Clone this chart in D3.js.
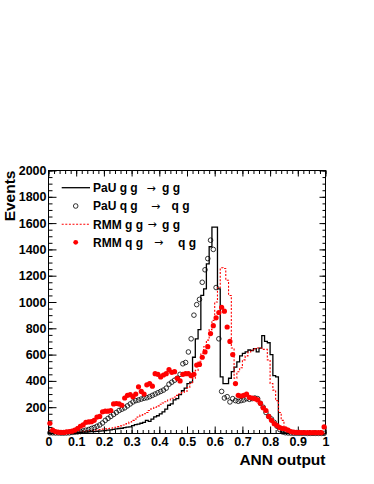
<!DOCTYPE html>
<html>
<head>
<meta charset="utf-8">
<script src="https://cdn.jsdelivr.net/npm/d3@7"></script>
<style>
  body { margin: 0; background: #fff; }
  text { font-family: "Liberation Sans", Arial, Helvetica, sans-serif; font-weight: bold; }
  text.arrow { font-family: "DejaVu Sans", sans-serif; font-weight: normal; }
</style>
</head>
<body>
<div id="chart"></div>
<script>
const WIDTH = 374;
const HEIGHT = 484;
const FRAME = { LEFT: 48.5, RIGHT: 325.5, TOP: 170.5, BOTTOM: 433.5 };

// 100 bins between 0 and 1
const nBins = 100;

// PaU g g -> g g (black histogram)
const paUgg = [
  3, 2, 2, 2, 3, 3, 4, 5, 6, 7,
  8, 9, 10, 12, 13, 14, 15, 17, 18, 20,
  22, 25, 28, 32, 35, 38, 40, 45, 48, 50,
  60, 68, 72, 78, 85, 100, 92, 110, 126, 135,
  150, 165, 185, 215, 225, 255, 265, 295, 325, 345,
  380, 390, 580, 720, 790, 1050, 1100, 1290, 1420, 1570,
  1570, 1100, 430, 380, 380, 420, 470, 505, 545, 590,
  610, 620, 635, 630, 645, 620, 650, 745, 700, 690,
  600, 440, 430, 40, 10, 5, 3, 3, 2, 2,
  2, 2, 1, 1, 1, 1, 1, 1, 1, 1
];

// PaU q g -> q g (open circles)
const paUqg = [
  5, 5, 4, 4, 3, 3, 4, 5, 8, 10,
  12, 15, 20, 25, 30, 38, 45, 55, 65, 80,
  100, 115, 130, 145, 160, 175, 185, 195, 210, 225,
  240, 250, 255, 262, 268, 272, 280, 290, 300, 310,
  320, 330, 345, 375, 390, 405, 420, 450, 530, 540,
  620, 720, 900, 980, 1020, 1150, 1245, 1330, 1470, 1400,
  1110, 720, 320, 270, 280, 240, 265, 250, 245, 250,
  255, 265, 260, 265, 270, 265, 230, 200, 160, 130,
  110, 85, 55, 30, 12, 6, 4, 3, 2, 2,
  2, 2, 2, 1, 1, 1, 1, 1, 1, 1
];

// RMM g g -> g g (red dotted histogram)
const rmmGg = [
  20, 15, 12, 10, 10, 10, 12, 12, 14, 15,
  16, 18, 18, 20, 22, 24, 26, 28, 30, 33,
  35, 38, 40, 44, 48, 52, 58, 65, 75, 88,
  100, 110, 125, 140, 150, 160, 175, 190, 200, 210,
  222, 232, 242, 255, 268, 278, 290, 300, 312, 320,
  350, 380, 420, 480, 550, 610, 660, 710, 790, 860,
  1000, 1110, 1260, 1255, 1165, 1050, 650, 420, 470, 500,
  560, 590, 620, 635, 645, 650, 650, 640, 640, 560,
  380, 330, 250, 160, 100, 40, 15, 8, 5, 3,
  2, 2, 1, 1, 1, 1, 1, 1, 1, 1
];

// RMM q g -> q g (red dots)
const rmmQg = [
  78, 25, 15, 10, 8, 8, 12, 15, 18, 25,
  38, 55, 65, 85, 88, 90, 100, 125, 130, 165,
  170, 170, 175, 225, 228, 225, 215, 270, 290, 295,
  280, 300, 355, 320, 300, 370, 380, 360, 455, 450,
  430, 445, 455, 485, 465, 470, 420, 400, 450, 455,
  455, 440, 450, 520, 525, 580, 620, 660, 760, 820,
  880, 920, 960, 930, 810, 700, 600, 380, 290, 285,
  290, 300, 275, 270, 265, 255, 230, 195, 175, 130,
  100, 75, 60, 45, 38, 35, 25, 15, 10, 8,
  8, 7, 7, 6, 6, 6, 6, 6, 6, 50
];

const xTickValues = [0, 0.1, 0.2, 0.3, 0.4, 0.5, 0.6, 0.7, 0.8, 0.9, 1];
const yTickValues = [200, 400, 600, 800, 1000, 1200, 1400, 1600, 1800, 2000];

const svg = d3.select('#chart')
  .append('svg')
    .attr('width', WIDTH)
    .attr('height', HEIGHT);

const x = d3.scaleLinear().domain([0, 1]).range([FRAME.LEFT, FRAME.RIGHT]);
const y = d3.scaleLinear().domain([0, 2000]).range([FRAME.BOTTOM, FRAME.TOP]);

const binLo = i => i / nBins;
const binMid = i => (i + 0.5) / nBins;

const xMinor = d3.range(0, 1.0001, 0.02);
const yMinor = d3.range(0, 2000.1, 50);

// ticks: bottom / top / left / right, major and minor, all pointing inwards
const addAxis = (axis, transform, cls) => {
  const g = svg.append('g').attr('class', cls).attr('transform', transform).call(axis);
  g.select('.domain').remove();
  g.selectAll('line').attr('stroke', '#000').attr('stroke-width', 1);
  return g;
};

addAxis(d3.axisBottom(x).tickValues(xMinor).tickSize(-3.5).tickFormat(''),
        `translate(0,${FRAME.BOTTOM})`, 'xminor');
const xAxisG = addAxis(d3.axisBottom(x).tickValues(xTickValues).tickSize(-7).tickPadding(5)
          .tickFormat(d3.format('')), `translate(0,${FRAME.BOTTOM})`, 'xaxis');
xAxisG.selectAll('text').attr('font-size', 12.5).attr('fill', '#000')
      .attr('dy', null).attr('y', 12.8);

addAxis(d3.axisTop(x).tickValues(xMinor).tickSize(-3.5).tickFormat(''),
        `translate(0,${FRAME.TOP})`, 'xminor-top');
addAxis(d3.axisTop(x).tickValues(xTickValues).tickSize(-6).tickFormat(''),
        `translate(0,${FRAME.TOP})`, 'xmajor-top');

addAxis(d3.axisLeft(y).tickValues(yMinor).tickSize(-4).tickFormat(''),
        `translate(${FRAME.LEFT},0)`, 'yminor');
const yAxisG = addAxis(d3.axisLeft(y).tickValues(yTickValues).tickSize(-8).tickPadding(2)
          .tickFormat(d3.format('d')), `translate(${FRAME.LEFT},0)`, 'yaxis');
yAxisG.selectAll('text').attr('font-size', 12.5).attr('fill', '#000');

addAxis(d3.axisRight(y).tickValues(yMinor).tickSize(-3).tickFormat(''),
        `translate(${FRAME.RIGHT},0)`, 'yminor-right');
addAxis(d3.axisRight(y).tickValues([0].concat(yTickValues)).tickSize(-6).tickFormat(''),
        `translate(${FRAME.RIGHT},0)`, 'ymajor-right');

// frame
svg.append('rect')
   .attr('x', FRAME.LEFT).attr('y', FRAME.TOP)
   .attr('width', FRAME.RIGHT - FRAME.LEFT)
   .attr('height', FRAME.BOTTOM - FRAME.TOP)
   .attr('fill', 'none').attr('stroke', '#000').attr('stroke-width', 1);

const plot = svg.append('g');

const stepLine = d3.line()
  .x(d => x(d[0]))
  .y(d => y(d[1]))
  .curve(d3.curveStepAfter);

const stepPoints = values => values.map((v, i) => [binLo(i), v]).concat([[1, values[values.length - 1]]]);

plot.append('path')
    .attr('d', stepLine(stepPoints(paUgg)))
    .attr('fill', 'none').attr('stroke', '#000').attr('stroke-width', 1.3);

plot.append('path')
    .attr('d', stepLine(stepPoints(rmmGg)))
    .attr('fill', 'none').attr('stroke', '#ff0000').attr('stroke-width', 1.1)
    .attr('stroke-dasharray', '2,1.6');

plot.selectAll('.open')
    .data(paUqg)
    .enter()
    .append('circle')
    .attr('class', 'open')
    .attr('cx', (d, i) => x(binMid(i)))
    .attr('cy', d => y(d))
    .attr('r', 2.3)
    .attr('fill', 'none').attr('stroke', '#000').attr('stroke-width', 0.8);

plot.selectAll('.dot')
    .data(rmmQg)
    .enter()
    .append('circle')
    .attr('class', 'dot')
    .attr('cx', (d, i) => x(binMid(i)))
    .attr('cy', d => y(d))
    .attr('r', 2.6)
    .attr('fill', '#ff0000');

// legend
const legendRows = [
  { cy: 187.7, left: 'PaU g g', arrowX: 146.5, right: 'g g', rightX: 162, kind: 'line' },
  { cy: 206,   left: 'PaU q g', arrowX: 151, right: 'q g', rightX: 171.5, kind: 'open' },
  { cy: 224.3, left: 'RMM g g', arrowX: 147.5, right: 'g g', rightX: 162, kind: 'dash' },
  { cy: 242.3, left: 'RMM q g', arrowX: 154, right: 'q g', rightX: 178, kind: 'dot' }
];

const legend = svg.append('g').attr('class', 'legend');
legendRows.forEach(row => {
  if (row.kind === 'line') {
    legend.append('line').attr('x1', 61.7).attr('x2', 90).attr('y1', row.cy).attr('y2', row.cy)
          .attr('stroke', '#000').attr('stroke-width', 1.3);
  } else if (row.kind === 'dash') {
    legend.append('line').attr('x1', 61.7).attr('x2', 90).attr('y1', row.cy).attr('y2', row.cy)
          .attr('stroke', '#ff0000').attr('stroke-width', 1.1).attr('stroke-dasharray', '2,1.6');
  } else if (row.kind === 'open') {
    legend.append('circle').attr('cx', 75.7).attr('cy', row.cy).attr('r', 2.3)
          .attr('fill', 'none').attr('stroke', '#000').attr('stroke-width', 0.8);
  } else {
    legend.append('circle').attr('cx', 75.7).attr('cy', row.cy).attr('r', 2.4)
          .attr('fill', '#ff0000');
  }
  legend.append('text').attr('x', 93).attr('y', row.cy + 4.3)
        .attr('font-size', 12).text(row.left);
  legend.append('text').attr('class', 'arrow').attr('x', row.arrowX).attr('y', row.cy + 3.8)
        .attr('font-size', 11).text('\u2192');
  legend.append('text').attr('x', row.rightX).attr('y', row.cy + 4.3)
        .attr('font-size', 12).text(row.right);
});

// axis titles
svg.append('text')
   .attr('transform', `translate(15,${FRAME.TOP}) rotate(-90)`)
   .attr('text-anchor', 'end')
   .attr('font-size', 15.5)
   .text('Events');

svg.append('text')
   .attr('x', FRAME.RIGHT)
   .attr('y', 465)
   .attr('text-anchor', 'end')
   .attr('font-size', 15.5)
   .text('ANN output');
</script>
</body>
</html>
